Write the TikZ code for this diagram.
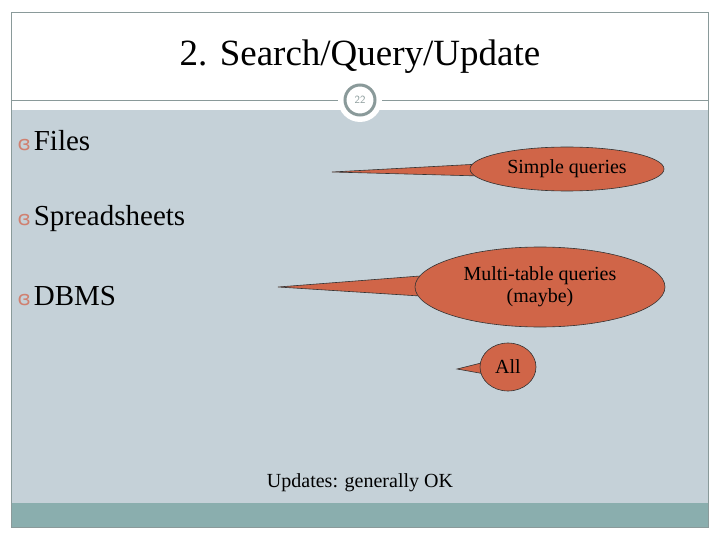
\documentclass[tikz,border=0pt]{standalone}
\usepackage{fontspec}
\setmainfont{Liberation Serif}
\newfontfamily\bulfont{DejaVu Sans}
\usetikzlibrary{shapes.geometric}
\definecolor{bg}{HTML}{C5D1D8}
\definecolor{bar}{HTML}{8AAEAE}
\definecolor{frm}{HTML}{8A9A9A}
\definecolor{callc}{HTML}{D06548}
\definecolor{bulc}{HTML}{D08070}
\tikzset{
  call/.style={ellipse,fill=callc,draw=black!80,line width=0.6pt,inner sep=0pt,align=center,font=\fontsize{20}{22}\selectfont},
  tail/.style={fill=callc,draw=black!80,line width=0.6pt,line join=miter},
  bul/.style={anchor=west,font=\fontsize{29}{32}\selectfont},
}
\newcommand{\bsym}{{\color{bulc}\bulfont\fontsize{20}{20}\selectfont ɞ\hspace{3pt}}}
\begin{document}
\begin{tikzpicture}[x=1pt,y=-1pt]
\useasboundingbox (0,0) rectangle (720,540);
\fill[white] (0,0) rectangle (720,540);
\fill[bg] (11,110) rectangle (708,503);
\fill[bar] (11,503) rectangle (708,527);
\draw[frm,line width=0.8pt] (11,12) rectangle (708,527);
\draw[frm,line width=0.8pt] (11,100) -- (708,100);
\node[circle,fill=white,minimum size=44pt] (pgc) at (360,100) {};
\node[circle,draw=frm,line width=3pt,fill=white,minimum size=30pt,font=\fontsize{11}{11}\selectfont\sffamily,text=frm] (pg) at (360,100) {22};
\node[font=\fontsize{37}{40}\selectfont] (title) at (360,57) {2. Search/Query/Update};
\node[bul] (files) at (14,141) {\bsym Files};
\node[bul] (spread) at (14,219) {\bsym Spreadsheets};
\node[bul] (dbms) at (14,296) {\bsym DBMS};
% callout 1
\coordinate (t1) at (332,172);
\draw[tail] (t1) -- (480,164) -- (480,176) -- cycle;
\node[call,minimum width=194pt,minimum height=44pt] (c1) at (567,169) {Simple queries};
% callout 2
\coordinate (t2) at (278,287);
\draw[tail] (t2) -- (420,276) -- (420,296) -- cycle;
\node[call,minimum width=250pt,minimum height=80pt] (c2) at (540,287) {Multi-table queries\\(maybe)};
% callout 3
\coordinate (t3) at (457,369);
\draw[tail] (t3) -- (485,362) -- (485,374) -- cycle;
\node[call,minimum width=56pt,minimum height=48pt] (c3) at (508,367) {All};
\node[font=\fontsize{20}{22}\selectfont] (upd) at (360,483) {Updates: generally OK};
\end{tikzpicture}
\end{document}
